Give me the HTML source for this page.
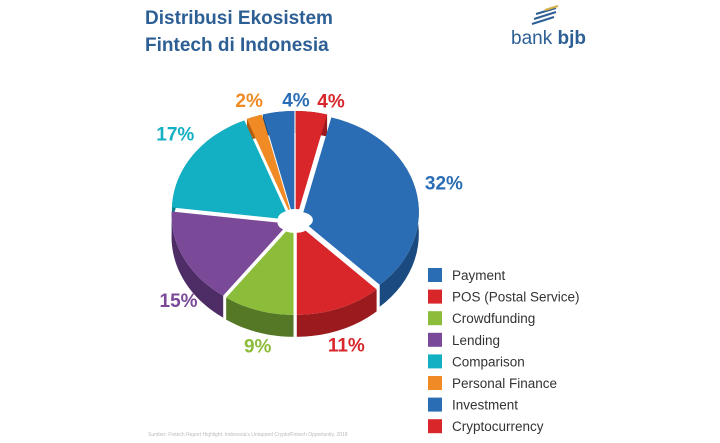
<!DOCTYPE html>
<html><head><meta charset="utf-8"><style>
body{margin:0;background:#fff;}
svg{display:block;font-family:"Liberation Sans",sans-serif;}
</style></head><body>
<svg id="c" width="720" height="443" viewBox="0 0 720 443">
<text x="145" y="24" font-size="19" font-weight="bold" fill="#2d5f95">Distribusi Ekosistem</text>
<text x="145" y="51" font-size="19" font-weight="bold" fill="#2d5f95">Fintech di Indonesia</text>
<g>
<path d="M536 14 L556 8 M534 19 L556 12 M532 24 L554 17" stroke="#2d5f95" stroke-width="2"/>
<path d="M545 10 L558 6" stroke="#d8b04a" stroke-width="2"/>
<text x="511" y="44" font-size="19" fill="#2d5f95">bank <tspan font-weight="bold">bjb</tspan></text>
</g>
<g id="pie"></g>
<g id="legend"></g>
<text x="148" y="436" font-size="5" fill="#bbb">Sumber: Fintech Report Highlight: Indonesia's Untapped Crypto/Fintech Opportunity, 2018</text>
</svg>
<script>
const categories=["Cryptocurrency","Payment","POS (Postal Service)","Crowdfunding","Lending","Comparison","Personal Finance","Investment"];
const values=[4,32,11,9,15,17,2,4];
const colors=["#d8262b","#2a6db5","#d8262b","#8cbd3a","#7a4a98","#13b0c3","#f08a24","#2a6db5"];
const sides=["#9a1a1e","#1b4a80","#9a1a1e","#557826","#4e2d66","#0b7d8c","#b05d10","#1b4a80"];
const labelDx=[20,13,3,8,14,1,4,23];
const labelDy=[7,0,25,23,37,-10,1,6];
const legendOrder=[1,2,3,4,5,6,7,0];
const NS="http://www.w3.org/2000/svg";
const cx=295,cy=213,rx=119,ry=98,depth=22,hr=13,hry=8,gap=5;
const total=values.reduce((a,b)=>a+b,0);
const pie=document.getElementById('pie');
function pt(a,r1,r2,ox,oy,dz){return[ox+Math.sin(a)*r1,oy-Math.cos(a)*r2+dz];}
function mk(t,at){const e=document.createElementNS(NS,t);for(const k in at)e.setAttribute(k,at[k]);return e;}
let acc=0;const sl=[];
values.forEach((v,i)=>{const a0=acc/total*2*Math.PI;acc+=v;const a1=acc/total*2*Math.PI;const m=(a0+a1)/2;
sl.push({i,a0,a1,m,ox:cx+Math.sin(m)*gap,oy:cy-Math.cos(m)*gap*0.8});});
sl.forEach(s=>{let d="";const N=30;
for(let k=0;k<=N;k++){const a=s.a0+(s.a1-s.a0)*k/N;const p=pt(a,rx,ry,s.ox,s.oy,0);d+=(k?"L":"M")+p[0]+" "+p[1];}
for(let k=N;k>=0;k--){const a=s.a0+(s.a1-s.a0)*k/N;const p=pt(a,rx,ry,s.ox,s.oy,depth);d+="L"+p[0]+" "+p[1];}
const e=mk('path',{d:d+"Z",fill:sides[s.i]});


pie.appendChild(e);});
sl.forEach(s=>{let d="";const N=30;
for(let k=0;k<=N;k++){const a=s.a0+(s.a1-s.a0)*k/N;const p=pt(a,rx,ry,s.ox,s.oy,0);d+=(k?"L":"M")+p[0]+" "+p[1];}
for(let k=N;k>=0;k--){const a=s.a0+(s.a1-s.a0)*k/N;const p=pt(a,hr,hry,s.ox,s.oy+8,0);d+="L"+p[0]+" "+p[1];}
const e=mk('path',{d:d+"Z",fill:colors[s.i]});


pie.appendChild(e);
const lx=cx+Math.sin(s.m)*rx*1.2+labelDx[s.i]-3;const ly=cy+7-Math.cos(s.m)*ry*1.2+labelDy[s.i]-3;
const t=mk('text',{x:lx,y:ly,'font-size':19,'font-weight':'bold',fill:colors[s.i],'text-anchor':'middle'});
t.textContent=values[s.i]+"%";


pie.appendChild(t);});
const hole=mk('ellipse',{cx:cx,cy:cy+8,rx:15,ry:9,fill:'#fff'});


pie.appendChild(hole);
const lg=document.getElementById('legend');
legendOrder.forEach((idx,j)=>{const y=268+j*21.6;
const r=mk('rect',{x:428,y:y,width:14,height:14,fill:colors[idx]});


lg.appendChild(r);
const t=mk('text',{x:452,y:y+12,'font-size':13.5,fill:'#333'});t.textContent=categories[idx];


lg.appendChild(t);});
</script>
</body></html>
